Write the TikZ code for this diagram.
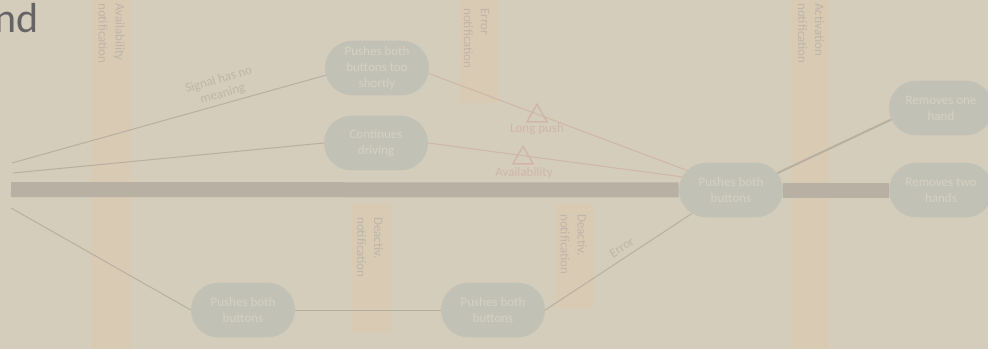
\documentclass[tikz,border=0pt]{standalone}
\usepackage{fontspec}
\setmainfont{Carlito}
\usetikzlibrary{shapes.misc,shapes.geometric}

\definecolor{bg}{HTML}{D5CDBB}
\definecolor{nodefill}{HTML}{C1C1B5}
\definecolor{nodetext}{HTML}{D6D1C1}
\definecolor{bandfill}{HTML}{D9CAB4}
\definecolor{bandtext}{HTML}{BDB5A7}
\definecolor{linkgray}{HTML}{B7B0A1}
\definecolor{linkpink}{HTML}{CFB6A6}
\definecolor{barcol}{HTML}{B8B1A3}
\definecolor{titlecol}{HTML}{646464}

\tikzset{
  state/.style={rounded rectangle, fill=nodefill, minimum width=78pt,
    minimum height=41pt, inner sep=0pt, align=center, text=nodetext,
    font=\fontsize{9.75}{12}\selectfont},
  bandlabel/.style={rotate=-90, anchor=west, inner sep=0pt, align=left,
    text=bandtext, font=\fontsize{9.75}{12.75}\selectfont},
  band/.style={fill=bandfill},
  link/.style={draw=linkgray, line width=0.75pt},
  linkstrong/.style={draw=linkgray, line width=1.5pt},
  pinklink/.style={draw=linkpink, line width=0.75pt},
  bar/.style={draw=barcol, line width=11.25pt},
  marker/.style={regular polygon, regular polygon sides=3, draw=linkpink,
    line width=1.1pt, minimum size=17.5pt, inner sep=0pt},
  pinklabel/.style={text=linkpink, font=\fontsize{9.75}{12}\selectfont},
  graylabel/.style={text=bandtext, align=center, font=\fontsize{9.75}{11}\selectfont}
}

\begin{document}
\begin{tikzpicture}[x=0.75pt,y=-0.75pt]
  % background
  \fill[bg] (0,0) rectangle (988,349);
  \useasboundingbox (0,0) rectangle (988,349);

  % title fragment
  \node[anchor=base east, inner sep=0pt, text=titlecol,
        font=\fontsize{31.5}{36}\selectfont] (title) at (39,33) {nd};

  % notification bands
  \fill[band] (91,0) rectangle (131,349);
  \fill[band] (459,0) rectangle (498,103);
  \fill[band] (791,0) rectangle (829,349);
  \fill[band] (352,203) rectangle (391,333);
  \fill[band] (555,203) rectangle (594,309);

  \node[bandlabel] (bA) at (111.5,3) {Availability\\notification};
  \node[bandlabel] (bB) at (476.5,8) {Error\\notification};
  \node[bandlabel] (bC) at (811,3) {Activation\\notification};
  \node[bandlabel] (bD) at (370,217) {Deactiv.\\notification};
  \node[bandlabel] (bE) at (573.5,214) {Deactiv.\\notification};

  % states
  \node[state] (N1) at (377,68) {Pushes both\\buttons too\\shortly};
  \node[state] (N2) at (376,143) {Continues\\driving};
  \node[state] (N3) at (731,190) {Pushes both\\buttons};
  \node[state] (N4) at (941,108) {Removes one\\hand};
  \node[state] (N5) at (941,190) {Removes two\\hands};
  \node[state] (N6) at (243,310) {Pushes both\\buttons};
  \node[state] (N7) at (493,310) {Pushes both\\buttons};

  % free ends on the left
  \coordinate (s1) at (12,163);
  \coordinate (s2) at (13,173);
  \coordinate (s3) at (11,208);
  \coordinate (s0) at (11,189.5);

  % main bar
  \draw[bar] (s0) -- (N3.west);
  \draw[bar] (N3.east) -- (N5.west);

  % connectors
  \draw[link] (s1) -- node[graylabel, pos=0.68, sloped, above, inner sep=2.5pt]
    {Signal has no\\meaning} (N1.188);
  \draw[link] (s2) -- (N2.west);
  \draw[link] (s3) -- (N6.west);
  \draw[link] (N6.east) -- (N7.west);
  \draw[link] (N7.east) -- node[graylabel, pos=0.56, sloped, above, inner sep=4pt]
    {Error} (N3.211);
  \draw[linkstrong] (N3.20) -- (N4.193);
  \draw[pinklink] (N1.-6) -- (N3.156);
  \draw[pinklink] (N2.east) -- (N3.165);

  % markers on the pink connectors
  \node[marker] (m1) at (537,116) {};
  \node[marker] (m2) at (523,158) {};
  \node[pinklabel] (l1) at (537,129) {Long push};
  \node[pinklabel] (l2) at (524,173) {Availability};
\end{tikzpicture}
\end{document}
